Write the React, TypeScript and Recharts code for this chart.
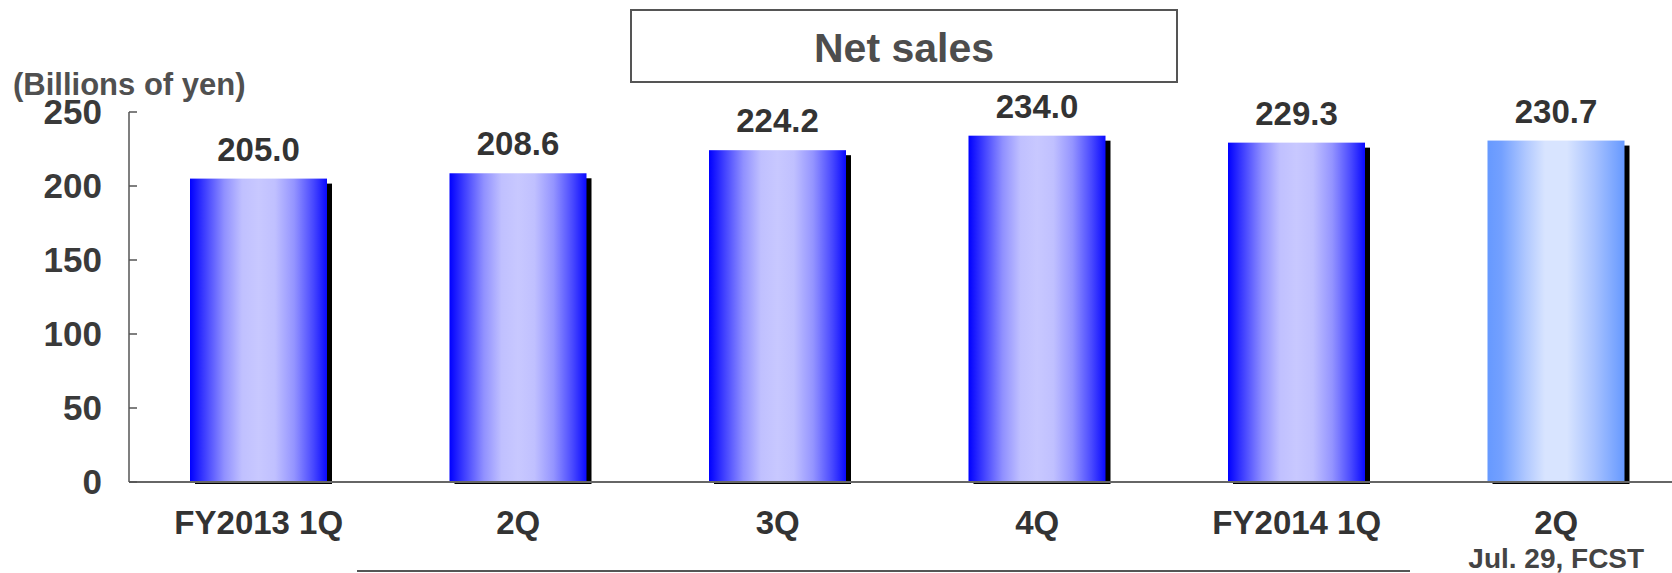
import { BarChart, Bar, XAxis, YAxis, LabelList } from 'recharts'

const categories = ['FY2013 1Q', '2Q', '3Q', '4Q', 'FY2014 1Q', '2Q']
const subLabels = ['', '', '', '', '', 'Jul. 29, FCST']
const netSales = [205.0, 208.6, 224.2, 234.0, 229.3, 230.7]
const isForecast = [false, false, false, false, false, true]
const yTicks = [0, 50, 100, 150, 200, 250]

const data = categories.map((name, i) => ({ name, sales: netSales[i], idx: i }))

const FONT = '"Liberation Sans", Arial, sans-serif'

function BarShape(props: any) {
  const { x, y, width, height, payload } = props
  if (!height) return null
  const grad = isForecast[payload.idx] ? 'url(#fcst)' : 'url(#actual)'
  return (
    <g>
      <rect x={x + 5} y={y + 5} width={width} height={height - 3} fill="#000" />
      <rect x={x} y={y} width={width} height={height} fill={grad} />
    </g>
  )
}

function ValueLabel(props: any) {
  const { x, y, width, value } = props
  return (
    <text x={x + width / 2} y={y - 18} textAnchor="middle" fontFamily={FONT} fontSize={33} fontWeight="bold" fill="#333">
      {Number(value).toFixed(1)}
    </text>
  )
}

function YTick(props: any) {
  const { x, y, payload } = props
  return (
    <g>
      <line x1={x} x2={x + 8} y1={y} y2={y} stroke="#555" strokeWidth={1.5} />
      <text x={x - 27} y={y + 12} textAnchor="end" fontFamily={FONT} fontSize={35} fontWeight="bold" fill="#3a3a3a">
        {payload.value}
      </text>
    </g>
  )
}

function XTick(props: any) {
  const { x, y, payload, index } = props
  const sub = subLabels[index]
  return (
    <g>
      <text x={x} y={y + 52} textAnchor="middle" fontFamily={FONT} fontSize={33} fontWeight="bold" fill="#333">
        {payload.value}
      </text>
      {sub && (
        <text x={x} y={y + 86} textAnchor="middle" fontFamily={FONT} fontSize={28} fontWeight="bold" fill="#444">
          {sub}
        </text>
      )}
    </g>
  )
}

export default function App() {
  return (
    <div style={{ position: 'fixed', left: 0, top: 0, width: 1672, height: 573, overflow: 'hidden', background: '#fff' }}>
      <BarChart width={1690} height={573} data={data} margin={{ top: 112, right: 4, left: 0, bottom: 0 }}>
        <defs>
          <linearGradient id="actual" x1="0" y1="0" x2="1" y2="0">
            <stop offset="0" stopColor="#0000ff" />
            <stop offset="0.1" stopColor="#3a3aff" />
            <stop offset="0.25" stopColor="#9090ff" />
            <stop offset="0.38" stopColor="#c0c0ff" />
            <stop offset="0.5" stopColor="#c8c8ff" />
            <stop offset="0.62" stopColor="#c0c0ff" />
            <stop offset="0.76" stopColor="#9494ff" />
            <stop offset="0.9" stopColor="#4848ff" />
            <stop offset="1" stopColor="#0a0aff" />
          </linearGradient>
          <linearGradient id="fcst" x1="0" y1="0" x2="1" y2="0">
            <stop offset="0" stopColor="#6699ff" />
            <stop offset="0.1" stopColor="#73a0ff" />
            <stop offset="0.28" stopColor="#b0c8ff" />
            <stop offset="0.42" stopColor="#d8e4ff" />
            <stop offset="0.58" stopColor="#d8e4ff" />
            <stop offset="0.78" stopColor="#a8c2ff" />
            <stop offset="1" stopColor="#6699ff" />
          </linearGradient>
        </defs>
        <XAxis
          dataKey="name"
          height={91}
          tickSize={0}
          tickMargin={0}
          tickLine={false}
          interval={0}
          axisLine={{ stroke: '#666', strokeWidth: 2 }}
          tick={<XTick />}
        />
        <YAxis
          width={129}
          domain={[0, 250]}
          ticks={yTicks}
          tickSize={0}
          tickMargin={0}
          tickLine={false}
          axisLine={{ stroke: '#555', strokeWidth: 1.5 }}
          tick={<YTick />}
        />
        <Bar dataKey="sales" barSize={137} isAnimationActive={false} shape={<BarShape />}>
          <LabelList dataKey="sales" content={<ValueLabel />} />
        </Bar>
      </BarChart>
      <svg width={1672} height={573} style={{ position: 'absolute', left: 0, top: 0, pointerEvents: 'none' }}>
        <rect x={631} y={10} width={546} height={72} fill="#fff" stroke="#555" strokeWidth={2} />
        <text x={904} y={62} textAnchor="middle" fontFamily={FONT} fontSize={41} fontWeight="bold" fill="#4d4d4d">
          Net sales
        </text>
        <text x={13} y={95} fontFamily={FONT} fontSize={31} fontWeight="bold" fill="#505050">
          (Billions of yen)
        </text>
        <line x1={357} x2={1410} y1={571} y2={571} stroke="#555" strokeWidth={2} />
      </svg>
    </div>
  )
}
